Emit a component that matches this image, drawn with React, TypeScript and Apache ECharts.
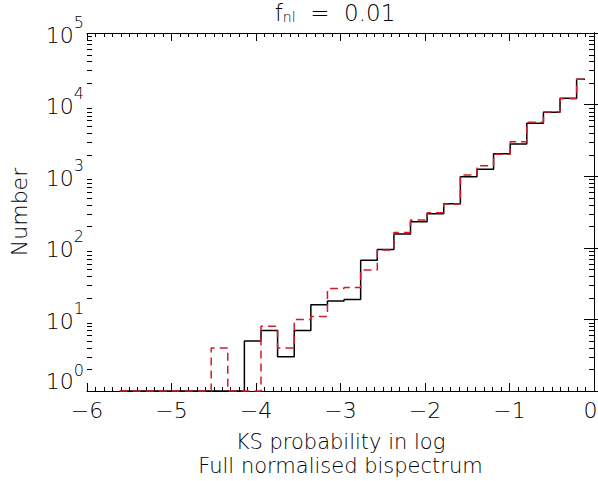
import React, { useEffect, useRef } from 'react';
import * as echarts from 'echarts';

// Bin centres (log10 KS probability) of the histogram
const binCenters = [
  -5.612, -5.415, -5.219, -5.022, -4.826, -4.629, -4.432, -4.236, -4.039, -3.843,
  -3.646, -3.449, -3.253, -3.056, -2.860, -2.663, -2.466, -2.270, -2.073, -1.877,
  -1.680, -1.483, -1.287, -1.090, -0.894, -0.697, -0.500, -0.304, -0.107,
];
// Black solid histogram
const countsBlack = [
  1, 1, 1, 1, 1, 1, 1, 1, 5, 7,
  3, 7, 16, 18, 19, 67, 95, 156, 232, 300,
  413, 984, 1248, 2060, 2818, 5480, 7800, 12250, 22550,
];
// Red dashed histogram
const countsRed = [
  1, 1, 1, 1, 1, 1, 4, 1, 1, 8,
  4, 10, 11, 27, 28, 49, 93, 164, 244, 309,
  409, 1040, 1403, 2023, 3034, 5660, 7880, 12090, 22550,
];
const xMin = -6;
const xMax = 0;
const yMin = 1;
const yMax = 100000;
const minorMultipliers = [2, 3, 4, 5, 6, 7, 8, 9];
const decades = [1, 10, 100, 1000, 10000];

const FONT = 'DejaVu Sans';
const W = 200;

export default function App() {
  const ref = useRef<HTMLDivElement>(null);
  useEffect(() => {
    const chart = echarts.init(ref.current!, null, { renderer: 'svg' });

    const xFmt = (v: number) => (v < 0 ? '\u2212' + Math.abs(v) : `{z|${v}}`);
    const yFmt = (v: number) => {
      const e = Math.round(Math.log10(v));
      if (e === 0) return `{b0|10}{s0|${e}}`;
      return `{b|10}{s|${e}}`;
    };
    const tickStyle = { color: '#000', width: 1 };
    const titleEl = {
      type: 'text',
      id: 'title',
      x: 335,
      y: 13,
      style: {
        text: '{a|f}{b|nl}{a|  =  0.01}',
        align: 'center',
        verticalAlign: 'middle',
        rich: {
          a: { fontSize: 23, lineHeight: 22, fontFamily: FONT, fontWeight: W, fill: '#000' },
          b: { fontSize: 14, lineHeight: 22, fontFamily: FONT, fontWeight: W, fill: '#000', verticalAlign: 'bottom' },
        },
      },
    };

    chart.setOption({
      animation: false,
      grid: { left: 87, right: 4, top: 33, bottom: 90, containLabel: false, outerBoundsMode: 'none' },
      xAxis: [
        {
          type: 'value',
          position: 'bottom',
          min: xMin,
          max: xMax,
          interval: 1,
          axisLine: { lineStyle: tickStyle },
          axisTick: { inside: true, length: 8, lineStyle: tickStyle },
          minorTick: { show: true, splitNumber: 10, length: 4, lineStyle: tickStyle },
          splitLine: { show: false },
          axisLabel: {
            formatter: xFmt,
            fontSize: 22,
            color: '#000',
            margin: 8,
            fontFamily: FONT,
            fontWeight: W,
            rich: { z: { fontSize: 22, fontFamily: FONT, fontWeight: W, color: '#000', padding: [0, 7, 0, 0] } },
          },
          name: 'KS probability in log\nFull normalised bispectrum',
          nameLocation: 'middle',
          nameGap: 39,
          nameTextStyle: { fontSize: 21, lineHeight: 24, color: '#000', fontFamily: FONT, fontWeight: W },
        },
        {
          type: 'value',
          position: 'top',
          min: xMin,
          max: xMax,
          interval: 1,
          axisLine: { lineStyle: tickStyle },
          axisTick: { inside: true, length: 8, lineStyle: tickStyle },
          minorTick: { show: true, splitNumber: 10, length: 4, lineStyle: tickStyle },
          splitLine: { show: false },
          axisLabel: { show: false },
        },
      ],
      yAxis: [
        {
          type: 'log',
          position: 'left',
          min: yMin,
          max: yMax,
          logBase: 10,
          axisLine: { lineStyle: tickStyle },
          axisTick: { inside: true, length: 10, lineStyle: tickStyle },
          splitLine: { show: false },
          axisLabel: {
            formatter: yFmt,
            margin: 3,
            color: '#000',
            rich: {
              b: { fontSize: 22, fontFamily: FONT, fontWeight: W, color: '#000', padding: [4, 0, 0, 0] },
              s: { fontSize: 16, fontFamily: FONT, fontWeight: W, color: '#000', padding: [0, 0, 22, 0] },
              b0: { fontSize: 22, fontFamily: FONT, fontWeight: W, color: '#000', padding: [0, 0, 20, 0] },
              s0: { fontSize: 16, fontFamily: FONT, fontWeight: W, color: '#000', padding: [0, 0, 42, 0] },
            },
          },
          name: 'Number',
          nameLocation: 'middle',
          nameRotate: 90,
          nameGap: 57,
          nameTextStyle: { fontSize: 22, color: '#000', fontFamily: FONT, fontWeight: W },
        },
        {
          type: 'log',
          position: 'right',
          min: yMin,
          max: yMax,
          logBase: 10,
          axisLine: { lineStyle: tickStyle },
          axisTick: { inside: true, length: 10, lineStyle: tickStyle },
          splitLine: { show: false },
          axisLabel: { show: false },
        },
      ],
      series: [
        {
          type: 'line',
          step: 'middle',
          showSymbol: false,
          symbol: 'none',
          clip: false,
          data: binCenters.map((x, i) => [x, countsBlack[i]]),
          lineStyle: { color: '#000', width: 1.5 },
          z: 3,
        },
        {
          type: 'line',
          step: 'middle',
          showSymbol: false,
          symbol: 'none',
          clip: false,
          data: binCenters.map((x, i) => [x, countsRed[i]]),
          lineStyle: { color: '#d01c2a', width: 1.5, type: [8, 5] },
          z: 4,
        },
      ],
    });

    // Logarithmic minor ticks on both vertical axes, positioned through the axis scales
    const xl = chart.convertToPixel({ xAxisIndex: 0 }, xMin) as number;
    const xr = chart.convertToPixel({ xAxisIndex: 0 }, xMax) as number;
    const tickEls: any[] = [];
    decades.forEach((d) =>
      minorMultipliers.forEach((m) => {
        const y = chart.convertToPixel({ yAxisIndex: 0 }, d * m) as number;
        if (typeof y === 'number' && isFinite(y)) {
          const yy = Math.round(y);
          const k = tickEls.length;
          tickEls.push({ type: 'rect', id: 'mt' + k, z: 100, silent: true, shape: { x: xl, y: yy, width: 5, height: 1 }, style: { fill: '#000' } });
          tickEls.push({ type: 'rect', id: 'mt' + (k + 1), z: 100, silent: true, shape: { x: xr - 5, y: yy, width: 5, height: 1 }, style: { fill: '#000' } });
        }
      })
    );
    chart.setOption({ graphic: [titleEl, ...tickEls] });

    return () => chart.dispose();
  }, []);
  return <div ref={ref} style={{ width: 598, height: 481, position: 'absolute', left: 0, top: 0 }} />;
}
